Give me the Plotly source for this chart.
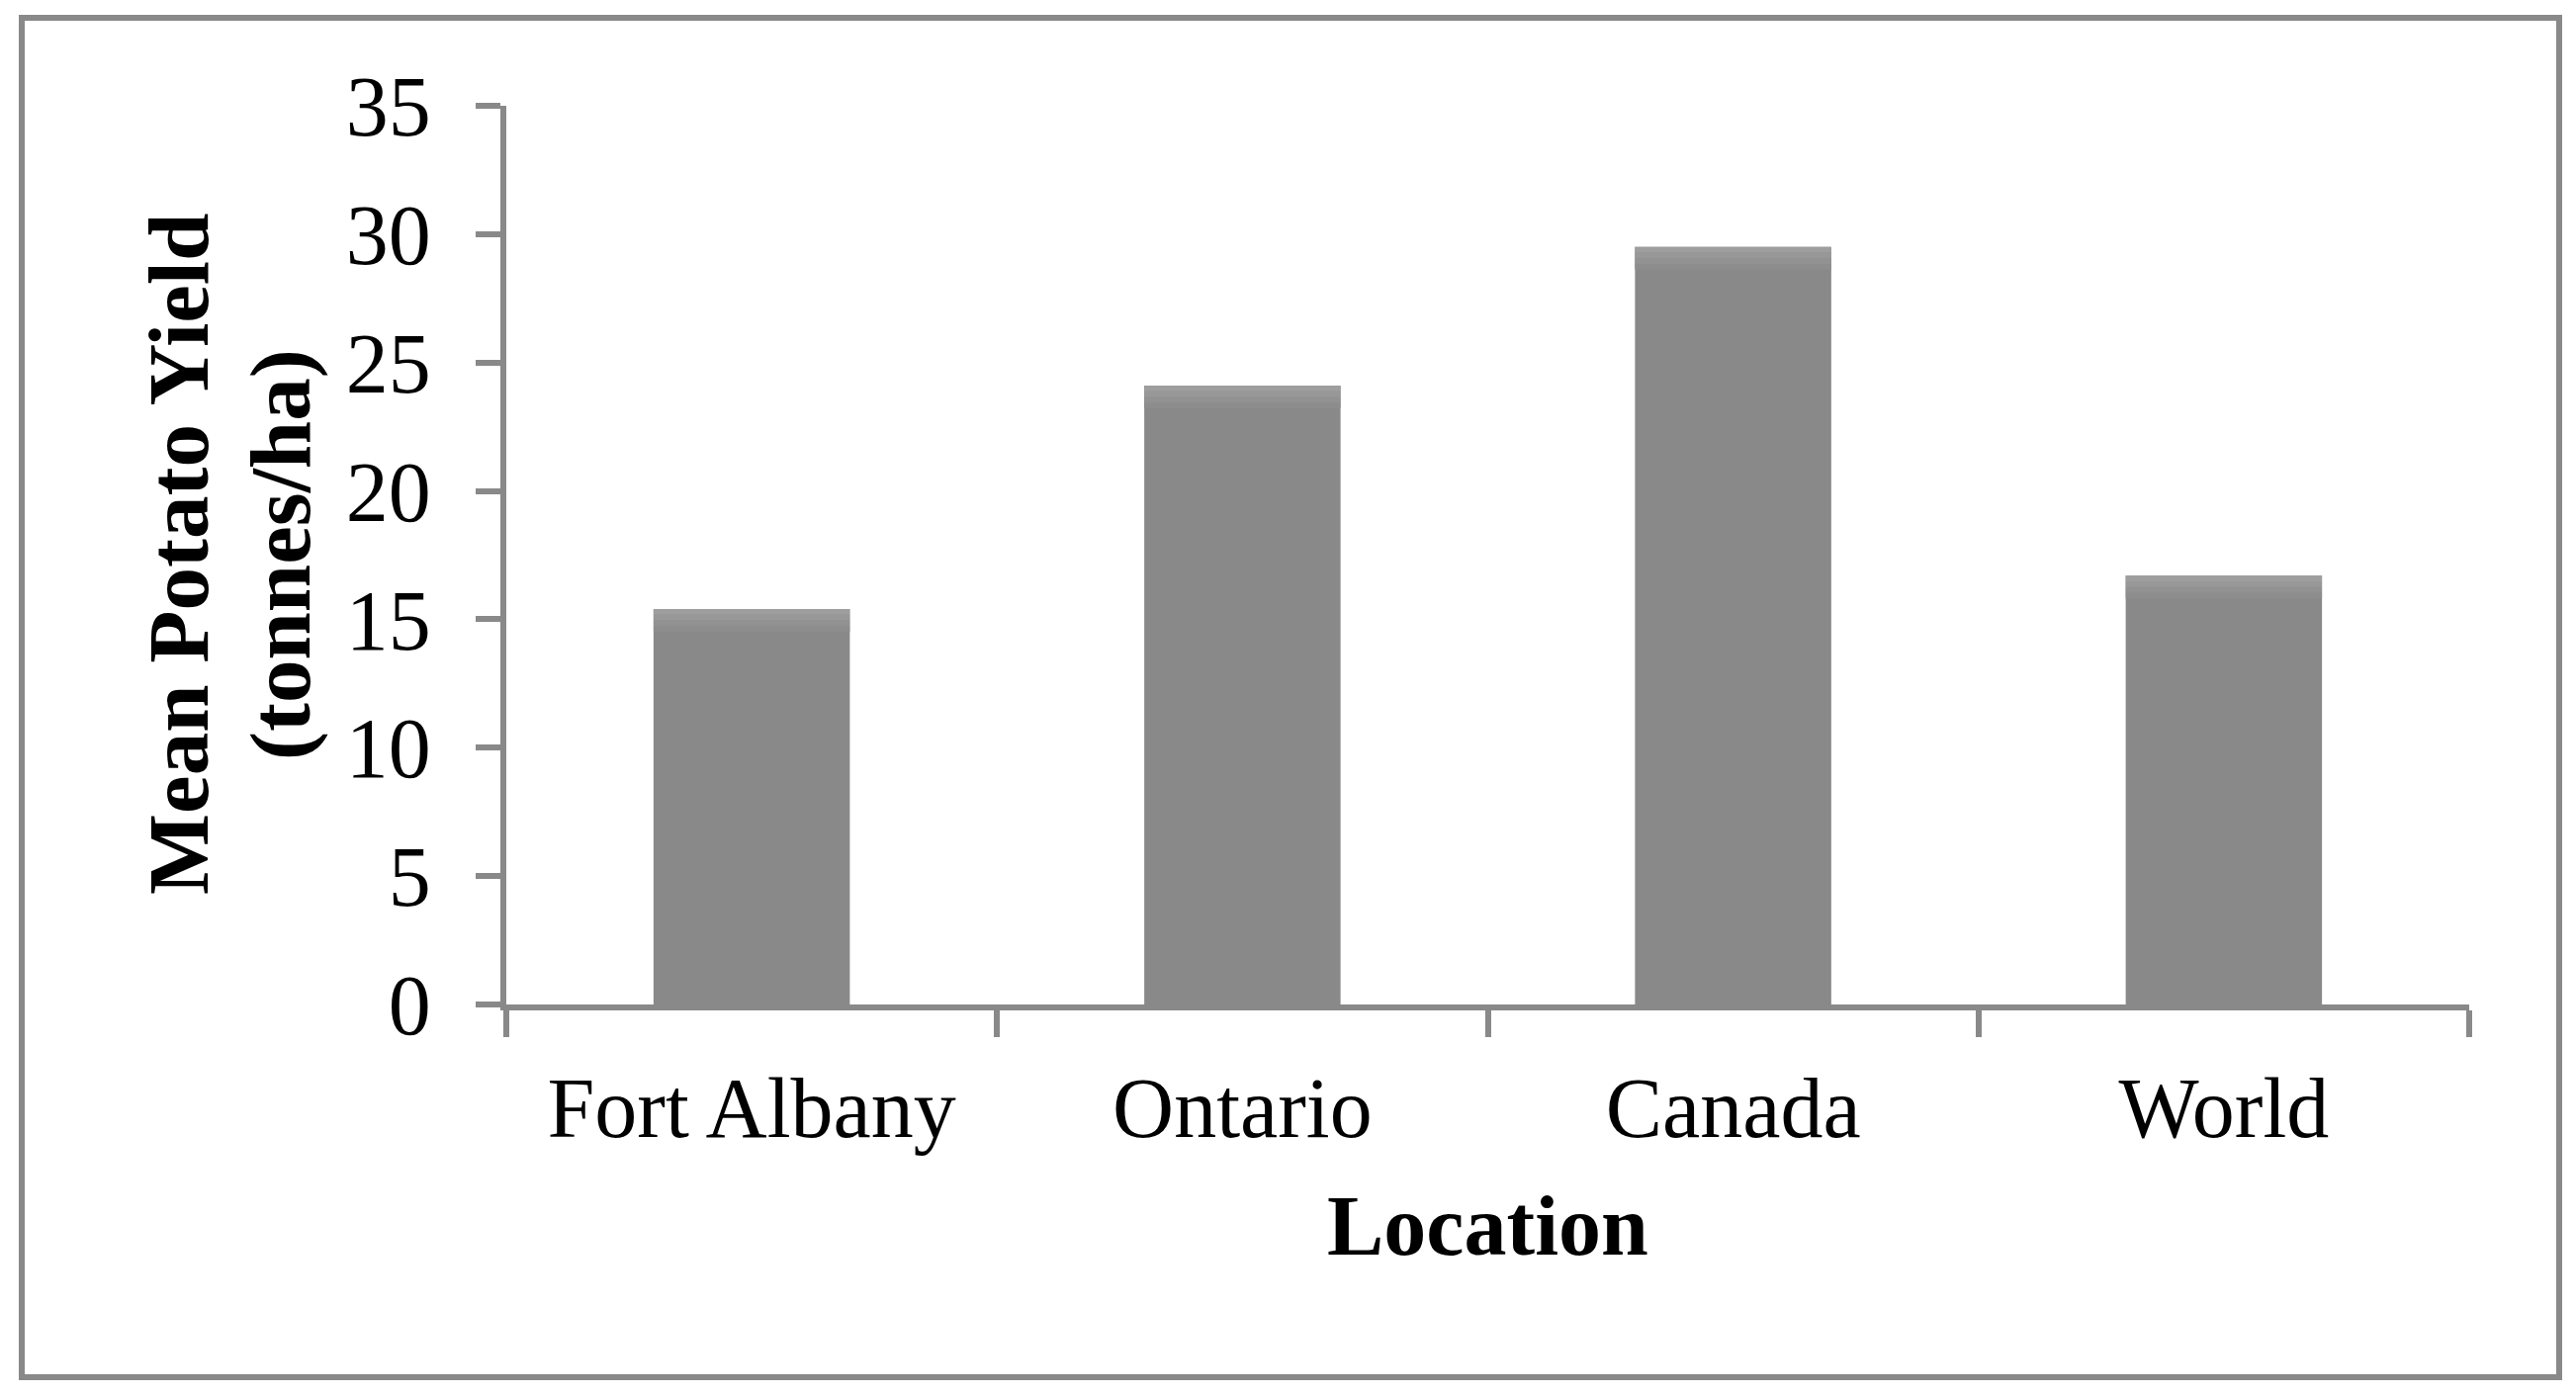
import plotly.graph_objects as go

categories = ["Fort Albany", "Ontario", "Canada", "World"]
yields = [15.4, 24.1, 29.5, 16.7]
y_ticks = [0, 5, 10, 15, 20, 25, 30, 35]

OFF = 8  # page body margin
W, H = 2605 - 2 * OFF, 1411 - 2 * OFF
L, R, T, B = 512 - OFF, 2497 - OFF, 107 - OFF, 1016 - OFF
GRAY = "#898989"
FONT = "Liberation Serif"
FS = 86

def px(x):
    return (x - OFF - L) / (R - L)

def py(y):
    return (B - (y - OFF)) / (B - T)

fig = go.Figure()
fig.add_trace(go.Bar(x=categories, y=yields, marker=dict(color=GRAY, line=dict(width=0)),
                     width=0.4, hoverinfo="x+y"))
# soft lighter gradient at the top of each bar
steps = ["#8d8d8d", "#929292", "#989898", "#9e9e9e"]
step_h = 0.22
for i, c in enumerate(steps):
    top_off = (len(steps) - i) * step_h
    fig.add_trace(go.Bar(x=categories, y=[step_h] * len(yields),
                         base=[v - top_off for v in yields],
                         marker=dict(color=c, line=dict(width=0)), width=0.4,
                         hoverinfo="skip"))

fig.update_layout(
    width=W, height=H,
    barmode="overlay",
    margin=dict(l=L, r=W - R, t=T, b=H - B, pad=0),
    paper_bgcolor="white", plot_bgcolor="white",
    showlegend=False,
    font=dict(family=FONT, size=FS, color="black"),
    xaxis=dict(showline=True, linecolor=GRAY, linewidth=6, ticks="outside",
               ticklen=27, tickwidth=6, tickcolor=GRAY, tickson="boundaries",
               showgrid=False, ticklabelstandoff=25,
               tickfont=dict(family=FONT, size=FS, color="black")),
    yaxis=dict(range=[0, 35], tickvals=y_ticks, showline=True, linecolor=GRAY,
               linewidth=6, ticks="outside", ticklen=25, tickwidth=6,
               tickcolor=GRAY, showgrid=False, zeroline=False,
               ticklabelstandoff=28,
               tickfont=dict(family=FONT, size=FS, color="black")),
)

fig.add_annotation(text="<b>Location</b>", xref="paper", yref="paper",
                   x=0.5, y=py(1240), xanchor="center", yanchor="middle",
                   showarrow=False, font=dict(family=FONT, size=FS, color="black"))
fig.add_annotation(text="<b>Mean Potato Yield</b>", xref="paper", yref="paper",
                   x=px(180), y=py(561), xanchor="center", yanchor="middle", textangle=-90,
                   showarrow=False, font=dict(family=FONT, size=87, color="black"))
fig.add_annotation(text="<b>(tonnes/ha)</b>", xref="paper", yref="paper",
                   x=px(283), y=py(561), xanchor="center", yanchor="middle", textangle=-90,
                   showarrow=False, font=dict(family=FONT, size=87, color="black"))

fig.add_shape(type="rect", xref="paper", yref="paper",
              x0=px(22), x1=px(2588), y0=py(1393), y1=py(18),
              line=dict(color=GRAY, width=6), fillcolor="rgba(0,0,0,0)", layer="below")

fig.write_html("out.html")
